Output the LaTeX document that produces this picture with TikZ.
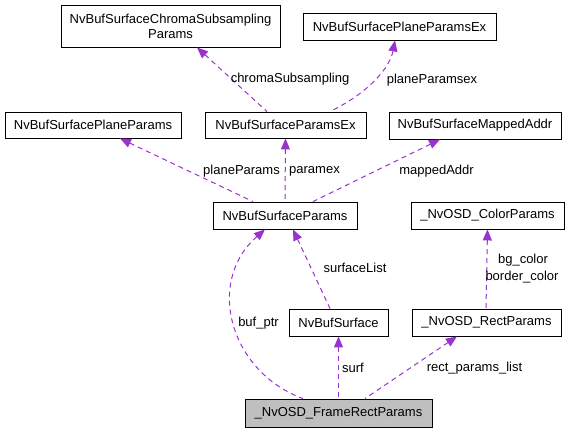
\documentclass[tikz,border=0pt]{standalone}
\usepackage{fontspec}
\setmainfont{Liberation Sans}
\usetikzlibrary{arrows.meta,calc}
\definecolor{edgec}{HTML}{9A32CD}
\definecolor{grayfill}{HTML}{BFBFBF}
\begin{document}
\begin{tikzpicture}[x=1pt,y=1pt,
  box/.style={draw=black,line width=0.9pt,fill=white,inner sep=0pt,align=center,font=\fontsize{13}{15}\selectfont},
  mem/.style={draw=edgec,line width=1pt,dash pattern=on 5pt off 4pt,
    arrows={Triangle[length=11pt,width=9pt,fill=edgec,color=edgec]-},shorten <=0pt},
  lbl/.style={font=\fontsize{13}{15}\selectfont,inner sep=0pt}]
\useasboundingbox (0,0) rectangle (568,432);
\node[box,minimum width=219pt,minimum height=42pt] (chroma) at (170.5,406) {NvBufSurfaceChromaSubsampling\\Params};
\node[box,minimum width=193pt,minimum height=27pt] (ppex) at (399.5,405.5) {NvBufSurfacePlaneParamsEx};
\node[box,minimum width=176pt,minimum height=26pt] (pp) at (93,307) {NvBufSurfacePlaneParams};
\node[box,minimum width=161pt,minimum height=26pt] (pex) at (285.5,307) {NvBufSurfaceParamsEx};
\node[box,minimum width=172pt,minimum height=27pt] (mapped) at (475,306.5) {NvBufSurfaceMappedAddr};
\node[box,minimum width=144pt,minimum height=27pt] (params) at (285,216.5) {NvBufSurfaceParams};
\node[box,minimum width=153pt,minimum height=27pt] (color) at (487.5,216.5) {\_NvOSD\_ColorParams};
\node[box,minimum width=99pt,minimum height=27pt] (surf) at (338.5,109.5) {NvBufSurface};
\node[box,minimum width=149pt,minimum height=27pt] (rect) at (486.5,109.5) {\_NvOSD\_RectParams};
\node[box,fill=grayfill,minimum width=187pt,minimum height=28pt] (frame) at (338.5,19) {\_NvOSD\_FrameRectParams};

% edges (arrow at the used class)
\draw[mem] ([xshift=26.5pt]chroma.south) -- ([xshift=-18.5pt]pex.north);
\draw[mem] ([xshift=-4.5pt]ppex.south) .. controls (390,365) and (370,340) .. ([xshift=44.5pt]pex.north);
\draw[mem] ([xshift=27pt]pp.south) -- ([xshift=-32pt]params.north);
\draw[mem] (pex.south) -- (params.north);
\draw[mem] ([xshift=-35pt]mapped.south) -- ([xshift=28pt]params.north);
\draw[mem] ([xshift=8pt]params.south) -- ([xshift=-8.5pt]surf.north);
\draw[mem] (color.south) -- ([xshift=-0.5pt]rect.north);
\draw[mem] ([xshift=-20pt]params.south) .. controls (205,150) and (230,60) .. ([xshift=-35.5pt]frame.north);
\draw[mem] (surf.south) -- (frame.north);
\draw[mem] ([xshift=-29.5pt]rect.south) -- ([xshift=26.5pt]frame.north);

% labels
\node[lbl] (l1) at (290,353) {chromaSubsampling};
\node[lbl] (l2) at (432,352) {planeParamsex};
\node[lbl] (l3) at (241.5,261) {planeParams};
\node[lbl] (l4) at (314.5,261) {paramex};
\node[lbl] (l5) at (436.5,261) {mappedAddr};
\node[lbl] (l6) at (355,164) {surfaceList};
\node[lbl] (l7) at (523,172) {bg\_color};
\node[lbl] (l8) at (522,155) {border\_color};
\node[lbl] (l9) at (258.5,109) {buf\_ptr};
\node[lbl] (l10) at (353,64) {surf};
\node[lbl] (l11) at (474.5,64) {rect\_params\_list};
\end{tikzpicture}
\end{document}
